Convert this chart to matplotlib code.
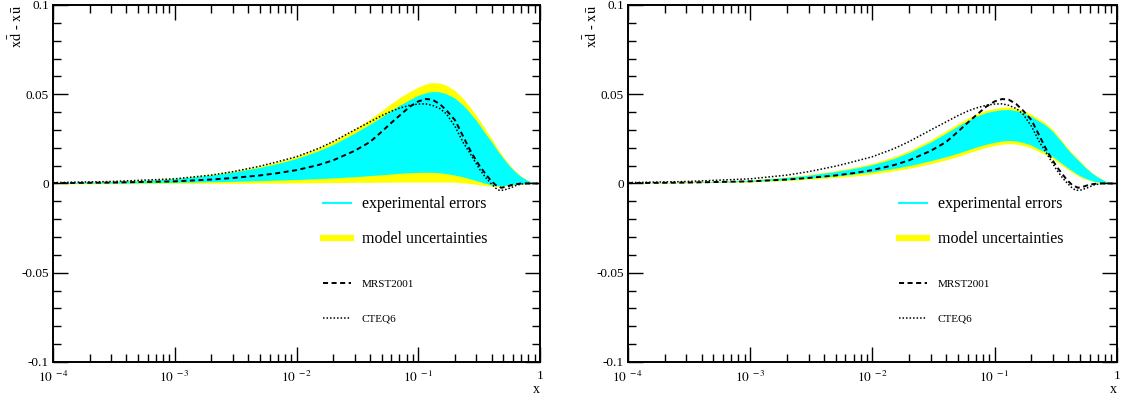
import matplotlib
matplotlib.use("Agg")
import matplotlib.pyplot as plt
from matplotlib.lines import Line2D
from matplotlib.ticker import FixedLocator, FixedFormatter, MultipleLocator, LogLocator, NullFormatter

plt.rcParams['font.family'] = ['Liberation Serif', 'DejaVu Serif']
plt.rcParams['mathtext.fontset'] = 'stix'

# x grid of the read-off band points
xs = [1e-4, 2e-4, 5e-4, 1e-3, 2e-3, 3e-3, 5e-3, 7e-3, 1e-2, 1.5e-2, 2e-2, 3e-2, 4e-2, 5e-2, 6e-2, 7e-2,
      8.5e-2, 0.1, 0.115, 0.13, 0.15, 0.17, 0.2, 0.23, 0.26, 0.3, 0.35, 0.4, 0.45, 0.5, 0.55, 0.6,
      0.65, 0.7, 0.8, 0.9, 1.0]

# left panel bands
left_model_hi = [.0005, .0008, .0017, .003, .0052, .007, .0098, .0122, .0152, .0198, .0238, .0305, .036, .0408,
                 .0448, .048, .0515, .054, .0557, .0565, .0563, .055, .052, .048, .0437, .038, .031, .025,
                 .0195, .015, .0113, .0083, .006, .0042, .0017, .0005, 0]
left_exp_hi = [.0004, .0007, .0015, .0027, .0047, .0064, .009, .0112, .014, .0182, .0218, .0282, .0332, .0373,
               .0408, .0438, .047, .0494, .0508, .0515, .0513, .0502, .0478, .0442, .0403, .0352, .0286, .0232,
               .0181, .014, .0105, .0077, .0055, .0038, .0015, .0004, 0]
left_exp_lo = [0, .0001, .0003, .0006, .001, .0012, .0016, .0019, .0022, .0027, .0031, .0038, .0044, .0049,
               .0053, .0057, .006, .0062, .0063, .0062, .006, .0055, .0047, .0038, .0028, .0016, .0002, -.0008,
               -.0012, -.0012, -.0009, -.0006, -.0004, -.0002, 0, 0, 0]
left_model_lo = [-.0002, -.0002, -.0001, 0, .0001, .0001, .0002, .0002, .0003, .0004, .0005, .0006, .0006, .0007,
                 .0007, .0008, .0008, .0008, .0008, .0008, .0008, .0008, .0007, .0004, 0, -.0005, -.0011, -.0015,
                 -.0017, -.0016, -.0013, -.0009, -.0006, -.0003, 0, 0, 0]

# right panel bands
right_model_hi = [.0004, .0006, .0012, .002, .0037, .005, .0072, .009, .0113, .015, .0185, .0245, .0295, .0335,
                  .0365, .0388, .041, .042, .0427, .0428, .0422, .041, .0388, .0362, .034, .030, .0245, .0195,
                  .0157, .0125, .0095, .0072, .0053, .0038, .0016, .0004, 0]
right_exp_hi = [.0003, .0005, .0011, .0018, .0034, .0046, .0067, .0084, .0105, .014, .0174, .0233, .0282, .0322,
                .0352, .0375, .0397, .0407, .0413, .0414, .0408, .0396, .0375, .035, .0328, .029, .0236, .0187,
                .015, .0119, .009, .0068, .005, .0035, .0014, .0003, 0]
right_exp_lo = [.0002, .0003, .0007, .0011, .0021, .003, .0042, .0052, .0065, .0085, .010, .0128, .015, .017,
                .0188, .0203, .022, .0231, .0238, .0241, .0238, .023, .0215, .0192, .0175, .015, .0115, .0085,
                .0062, .0043, .003, .002, .0013, .0009, .0003, .0001, 0]
right_model_lo = [.0001, .0002, .0005, .0008, .0016, .0023, .0033, .0041, .0053, .0071, .0085, .0111, .0132, .0151,
                  .0169, .0184, .0202, .0213, .022, .0223, .0221, .0213, .0199, .0178, .0161, .0137, .0104, .0076,
                  .0054, .0036, .0025, .0016, .001, .0006, .0002, 0, 0]

# parametrisations (same in both panels)
mrst_x = [1e-4, 3e-4, 1e-3, 2e-3, 3e-3, 5e-3, 7e-3, 1e-2, 1.5e-2, 2e-2, 3e-2, 4e-2, 5e-2, 6e-2, 7e-2,
          8.5e-2, 0.1, 0.115, 0.13, 0.15, 0.17, 0.2, 0.235, 0.26, 0.28, 0.32, 0.36, 0.39, 0.43, 0.48,
          0.53, 0.6, 0.7, 1.0]
mrst_y = [.0002, .0005, .0012, .0022, .0031, .0045, .0058, .0075, .0103, .013, .0183, .0232, .029, .034, .038,
          .043, .046, .0473, .047, .0445, .041, .0355, .026, .020, .016, .0096, .005, .002, -.0008, -.0024,
          -.0018, -.0006, 0, 0]
cteq_x = [1e-4, 3e-4, 1e-3, 2e-3, 3e-3, 5e-3, 7e-3, 1e-2, 1.5e-2, 2e-2, 3e-2, 4e-2, 5e-2, 6e-2, 7e-2,
          8.5e-2, 0.1, 0.115, 0.13, 0.15, 0.17, 0.2, 0.235, 0.26, 0.28, 0.32, 0.36, 0.39, 0.43, 0.46,
          0.5, 0.57, 0.65, 0.75, 1.0]
cteq_y = [.0005, .0011, .0026, .0047, .0066, .0097, .0122, .015, .0195, .0235, .030, .0345, .038, .0405, .0422,
          .0438, .0445, .0446, .0438, .042, .039, .032, .0226, .018, .0143, .0078, .003, .0004, -.0025, -.0038,
          -.0038, -.0025, -.0008, 0, 0]

dec_ticks = [1e-4, 1e-3, 1e-2, 1e-1, 1.0]
dec_labels = [r'$10^{\ -4}$', r'$10^{\ -3}$', r'$10^{\ -2}$', r'$10^{\ -1}$', '1']
y_ticks = [-0.1, -0.05, 0.0, 0.05, 0.1]
y_labels = ['-0.1', '-0.05', '0', '0.05', '0.1']


def panel(ax, model_lo, model_hi, exp_lo, exp_hi):
    ax.fill_between(xs, model_lo, model_hi, color='#ffff00', lw=0)
    ax.fill_between(xs, exp_lo, exp_hi, color='#00ffff', lw=0)
    ax.plot(mrst_x, mrst_y, color='black', lw=1.4, linestyle=(0, (2.6, 1.8)))
    ax.plot(cteq_x, cteq_y, color='black', lw=1.1, linestyle=(0, (1, 1.3)))

    ax.set_xscale('log')
    ax.set_xlim(1e-4, 1)
    ax.set_ylim(-0.1, 0.1)
    ax.xaxis.set_major_locator(FixedLocator(dec_ticks))
    ax.xaxis.set_major_formatter(FixedFormatter(dec_labels))
    ax.xaxis.set_minor_locator(LogLocator(base=10, subs=range(2, 10), numticks=20))
    ax.xaxis.set_minor_formatter(NullFormatter())
    ax.yaxis.set_major_locator(FixedLocator(y_ticks))
    ax.yaxis.set_major_formatter(FixedFormatter(y_labels))
    ax.yaxis.set_minor_locator(MultipleLocator(0.01))
    ax.tick_params(which='both', direction='in', top=True, right=True, width=1.0)
    ax.tick_params(which='major', length=11, labelsize=9.5, pad=3)
    ax.tick_params(axis='x', which='major', pad=5.5)
    ax.tick_params(which='minor', length=6)
    for s in ax.spines.values():
        s.set_linewidth(1.4)

    ax.set_ylabel(r'$\mathrm{x\bar{d}}$ - $\mathrm{x\bar{u}}$', loc='top', fontsize=10.5)
    ax.yaxis.set_label_coords(-0.058, 1.0)
    ax.set_xlabel('x', loc='right', fontsize=10, labelpad=-1)

    h1 = [Line2D([], [], color='#00ffff', lw=1.5), Line2D([], [], color='#ffff00', lw=4.5)]
    leg1 = ax.legend(h1, ['experimental errors', 'model uncertainties'], loc='upper left',
                     bbox_to_anchor=(0.554, 0.464), frameon=False, fontsize=11.5,
                     handlelength=1.75, handletextpad=0.7, labelspacing=1.18,
                     borderpad=0, borderaxespad=0)
    ax.add_artist(leg1)
    h2 = [Line2D([], [], color='black', lw=1.4, linestyle=(0, (2.6, 1.8))),
          Line2D([], [], color='black', lw=1.1, linestyle=(0, (1, 1.3)))]
    ax.legend(h2, ['MRST2001', 'CTEQ6'], loc='upper left',
              bbox_to_anchor=(0.554, 0.231), frameon=False, fontsize=8,
              handlelength=2.5, handletextpad=1.0, labelspacing=2.2,
              borderpad=0, borderaxespad=0)


fig = plt.figure(figsize=(11.24, 3.98), dpi=100)
ax1 = fig.add_axes([0.0472, 0.0905, 0.4333, 0.897])
ax2 = fig.add_axes([0.5587, 0.0905, 0.435, 0.897])

panel(ax1, left_model_lo, left_model_hi, left_exp_lo, left_exp_hi)
panel(ax2, right_model_lo, right_model_hi, right_exp_lo, right_exp_hi)

fig.savefig('out.png', dpi=100)
